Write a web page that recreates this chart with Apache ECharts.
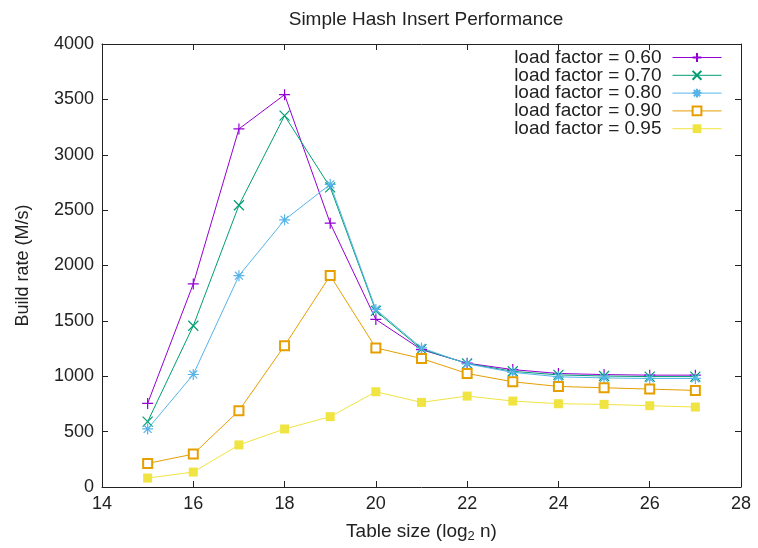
<!DOCTYPE html>
<html><head><meta charset="utf-8">
<script src="https://cdn.jsdelivr.net/npm/echarts@6/dist/echarts.min.js"></script>
<style>html,body{margin:0;padding:0;background:#fff}#c{width:758px;height:548px}</style>
</head><body><div id="c"></div>
<script>
const tableSize = [15,16,17,18,19,20,21,22,23,24,25,26,27];
const lf060 = [755,1834,3233,3542,2382,1513,1240,1118,1060,1025,1015,1010,1010];
const lf070 = [590,1456,2544,3353,2706,1590,1245,1115,1045,1012,1002,997,997];
const lf080 = [524,1016,1908,2412,2733,1603,1256,1112,1035,995,985,980,980];
const lf090 = [213,297,689,1276,1909,1256,1160,1025,950,908,896,884,872];
const lf095 = [81,135,380,524,635,860,764,821,776,752,746,734,722];
const seriesNames = ['load factor = 0.60','load factor = 0.70','load factor = 0.80','load factor = 0.90','load factor = 0.95'];
const seriesColors = ['#9400d3','#009e73','#56b4e9','#e69f00','#f0e442'];
const xTicks = [14,16,18,20,22,24,26,28];
const yTicks = [0,500,1000,1500,2000,2500,3000,3500,4000];

const plusPath = 'path://M0,-1L0,1M-1,0L1,0';
const crossPath = 'path://M-1,-1L1,1M-1,1L1,-1';
const starPath = 'path://M0,-1L0,1M-1,0L1,0M-0.72,-0.72L0.72,0.72M-0.72,0.72L0.72,-0.72';
const symbols = [plusPath, crossPath, starPath, 'emptyRect', 'rect'];
const symSizes = [11, 10, 11, 9, 9];
const allData = [lf060, lf070, lf080, lf090, lf095];

const series = allData.map((vals, i) => ({
  name: seriesNames[i],
  type: 'line',
  xAxisIndex: 0, yAxisIndex: 0,
  data: tableSize.map((x, j) => [x, vals[j]]),
  symbol: symbols[i],
  symbolSize: symSizes[i],
  showAllSymbol: true,
  lineStyle: { color: seriesColors[i], width: 1 },
  itemStyle: i < 3 ? { color: seriesColors[i], borderColor: seriesColors[i], borderWidth: 1.2 }
                   : (i === 3 ? { color: seriesColors[i], borderColor: seriesColors[i], borderWidth: 1.5 } : { color: seriesColors[i] }),
  emphasis: { disabled: true },
  animation: false
}));

const font = 'Liberation Sans, Arial, sans-serif';
const chart = echarts.init(document.getElementById('c'));
chart.setOption({
  animation: false,
  backgroundColor: '#fff',
  title: {
    text: 'Simple Hash Insert Performance',
    left: 421, top: 5, textAlign: 'center',
    textStyle: { fontFamily: font, fontSize: 19, fontWeight: 'normal', color: '#222' }
  },
  legend: {
    orient: 'vertical', right: 31, top: 43, align: 'right',
    itemWidth: 49, itemHeight: 11, itemGap: -1.2,
    lineStyle: { width: 1 },
    textStyle: { fontFamily: font, fontSize: 19, color: '#222', padding: [0, 6, 0, 0] },
    data: seriesNames
  },
  grid: { left: 102, right: 17, top: 44, bottom: 59 },
  xAxis: [{
    type: 'value', min: 14, max: 28, interval: 2,
    name: 'Table size (log{sub|2} n)', nameLocation: 'middle', nameGap: 34,
    nameTextStyle: { fontFamily: font, fontSize: 19, color: '#222',
      rich: { sub: { fontFamily: font, fontSize: 13, color: '#222', verticalAlign: 'bottom', padding: [9, 0, 0, 0] } } },
    axisLine: { show: true, onZero: false, lineStyle: { color: '#222', width: 1 } },
    axisTick: { show: true, inside: true, length: 6, lineStyle: { color: '#222' } },
    axisLabel: { fontFamily: font, fontSize: 18, color: '#222', margin: 8 },
    splitLine: { show: false }
  }, {
    type: 'value', min: 14, max: 28, interval: 2, position: 'top',
    axisLine: { show: true, onZero: false, lineStyle: { color: '#222', width: 1 } },
    axisTick: { show: true, inside: true, length: 6, lineStyle: { color: '#222' } },
    axisLabel: { show: false }, splitLine: { show: false }
  }],
  yAxis: [{
    type: 'value', min: 0, max: 4000, interval: 500,
    name: 'Build rate (M/s)', nameLocation: 'middle', nameGap: 70, nameRotate: 90,
    nameTextStyle: { fontFamily: font, fontSize: 18, color: '#222' },
    axisLine: { show: true, onZero: false, lineStyle: { color: '#222', width: 1 } },
    axisTick: { show: true, inside: true, length: 6, lineStyle: { color: '#222' } },
    axisLabel: { fontFamily: font, fontSize: 18, color: '#222', margin: 8, formatter: v => String(v) },
    splitLine: { show: false }
  }, {
    type: 'value', min: 0, max: 4000, interval: 500, position: 'right',
    axisLine: { show: true, onZero: false, lineStyle: { color: '#222', width: 1 } },
    axisTick: { show: true, inside: true, length: 6, lineStyle: { color: '#222' } },
    axisLabel: { show: false }, splitLine: { show: false }
  }],
  series: series
});
</script>
</body></html>
